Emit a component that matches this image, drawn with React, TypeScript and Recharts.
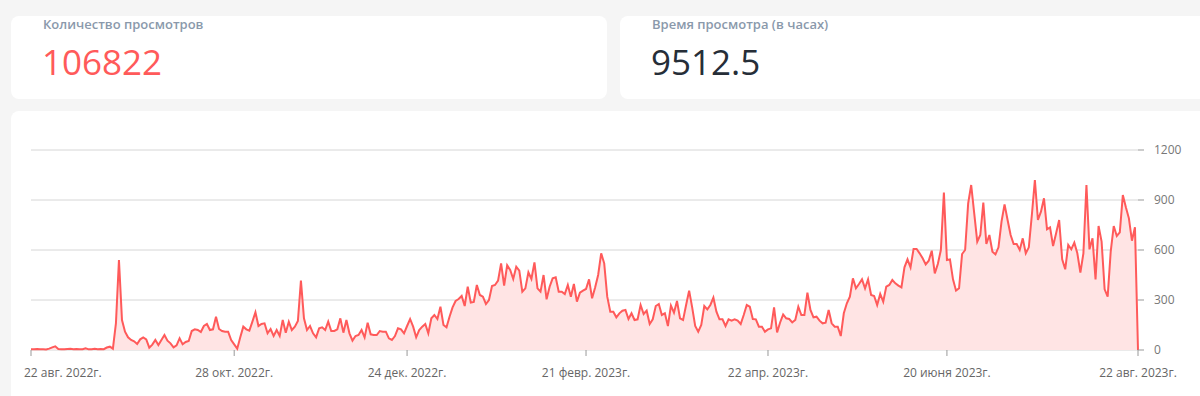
import React from "react";
import { AreaChart, Area, XAxis, YAxis, CartesianGrid } from "recharts";

// daily views, 22 Aug 2022 .. 22 Aug 2023
const views = [
  4, 5, 6, 4, 5, 3, 8, 16, 22, 6,
  5, 4, 6, 8, 5, 6, 4, 5, 10, 4,
  5, 8, 4, 6, 5, 15, 20, 8, 160, 540,
  180, 110, 76, 60, 52, 36, 64, 76, 64, 14,
  32, 60, 30, 60, 90, 56, 40, 16, 28, 70,
  34, 48, 54, 114, 124, 120, 108, 144, 156, 120,
  124, 200, 126, 114, 110, 110, 60, 34, 8, 76,
  140, 124, 116, 170, 226, 144, 156, 160, 100, 126,
  84, 120, 84, 180, 104, 170, 120, 140, 174, 416,
  190, 120, 144, 100, 76, 130, 136, 120, 170, 114,
  114, 124, 190, 104, 180, 100, 56, 84, 90, 120,
  76, 164, 94, 90, 90, 114, 110, 110, 70, 60,
  84, 130, 124, 100, 144, 186, 140, 76, 120, 140,
  156, 100, 190, 210, 186, 260, 150, 136, 200, 256,
  294, 306, 324, 264, 380, 284, 288, 390, 330, 320,
  276, 300, 384, 390, 416, 520, 386, 508, 480, 426,
  500, 476, 350, 370, 466, 426, 526, 370, 350, 450,
  304, 380, 430, 436, 350, 350, 336, 390, 320, 396,
  290, 344, 356, 366, 424, 310, 375, 450, 580, 520,
  320, 230, 230, 196, 220, 236, 240, 186, 220, 180,
  184, 270, 216, 236, 156, 184, 264, 276, 210, 220,
  144, 266, 224, 294, 190, 180, 270, 356, 256, 144,
  110, 150, 264, 244, 270, 314, 230, 184, 184, 144,
  184, 176, 184, 176, 156, 210, 270, 260, 186, 184,
  140, 140, 110, 124, 130, 256, 106, 165, 213, 190,
  186, 166, 180, 260, 210, 210, 344, 240, 196, 200,
  176, 160, 164, 240, 160, 140, 140, 84, 220, 280,
  320, 430, 370, 396, 424, 370, 424, 330, 324, 270,
  336, 290, 380, 390, 420, 400, 386, 376, 496, 544,
  496, 606, 606, 580, 550, 514, 536, 596, 460, 516,
  600, 944, 540, 544, 424, 356, 370, 576, 600, 880,
  990, 820, 650, 690, 884, 636, 690, 590, 574, 616,
  770, 874, 780, 690, 636, 636, 600, 670, 580, 616,
  810, 1020, 780, 830, 910, 724, 736, 624, 700, 780,
  544, 484, 630, 604, 644, 580, 464, 580, 990, 604,
  670, 424, 744, 650, 364, 320, 590, 744, 684, 706,
  930, 856, 790, 656, 736, 0,
];

const tickDays = [0, 67, 124, 183, 243, 302, 365];
const tickLabels = [
  "22 авг. 2022г.",
  "28 окт. 2022г.",
  "24 дек. 2022г.",
  "21 февр. 2023г.",
  "22 апр. 2023г.",
  "20 июня 2023г.",
  "22 авг. 2023г.",
];
const yTicks = [0, 300, 600, 900, 1200];

const totalViews = "106822";
const watchHours = "9512.5";

const data = views.map((v, i) => ({ day: i, views: v }));

const font = "'Open Sans', sans-serif";
const red = "#ff5a5a";

const XTick = (props: any) => {
  const { x, y, payload } = props;
  const idx = tickDays.indexOf(payload.value);
  const first = idx === 0;
  return (
    <text
      x={first ? x - 7 : x}
      y={y}
      dy="0.71em"
      textAnchor={first ? "start" : "middle"}
      fill="#666"
      fontSize={12}
      fontFamily={font}
    >
      {tickLabels[idx]}
    </text>
  );
};

const card: React.CSSProperties = {
  position: "absolute",
  background: "#fff",
  borderRadius: 8,
};

const title: React.CSSProperties = {
  position: "absolute",
  left: 32,
  top: 2,
  fontSize: 13,
  lineHeight: "13px",
  fontWeight: 600,
  color: "#8a99ab",
  whiteSpace: "nowrap",
};

const bigNum: React.CSSProperties = {
  position: "absolute",
  left: 31,
  top: 28,
  fontSize: 35,
  lineHeight: "35px",
  whiteSpace: "nowrap",
};

export default function App() {
  return (
    <div
      style={{
        position: "absolute",
        left: 0,
        top: 0,
        width: 1200,
        height: 396,
        overflow: "hidden",
        background: "#f5f5f5",
        fontFamily: font,
      }}
    >
      <div style={{ ...card, left: 11, top: 16, width: 596, height: 83 }}>
        <div style={title}>Количество просмотров</div>
        <div style={{ ...bigNum, color: red }}>{totalViews}</div>
      </div>
      <div style={{ ...card, left: 620, top: 16, width: 600, height: 83 }}>
        <div style={title}>Время просмотра (в часах)</div>
        <div style={{ ...bigNum, color: "#262e38" }}>{watchHours}</div>
      </div>
      <div style={{ ...card, left: 11, top: 111, width: 1210, height: 300 }} />
      <div style={{ position: "absolute", left: 0, top: 112 }}>
        <AreaChart
          width={1200}
          height={284}
          data={data}
          margin={{ top: 38, right: 0, left: 31, bottom: 16 }}
        >
          <CartesianGrid vertical={false} stroke="#d6d6d6" />
          <XAxis
            dataKey="day"
            type="number"
            domain={[0, 365]}
            ticks={tickDays}
            tick={<XTick />}
            axisLine={false}
            tickLine={{ stroke: "#999" }}
            tickSize={6}
            tickMargin={12}
            height={30}
            interval={0}
          />
          <YAxis
            orientation="right"
            domain={[0, 1200]}
            ticks={yTicks}
            axisLine={false}
            tickLine={{ stroke: "#999" }}
            tickSize={6}
            tickMargin={10}
            width={62}
            tick={{ fill: "#777", fontSize: 12, fontFamily: font }}
            interval={0}
          />
          <Area
            type="linear"
            dataKey="views"
            stroke={red}
            strokeWidth={2}
            fill="#ffe4e4"
            fillOpacity={1}
            dot={false}
            activeDot={false}
            isAnimationActive={false}
          />
        </AreaChart>
      </div>
    </div>
  );
}
